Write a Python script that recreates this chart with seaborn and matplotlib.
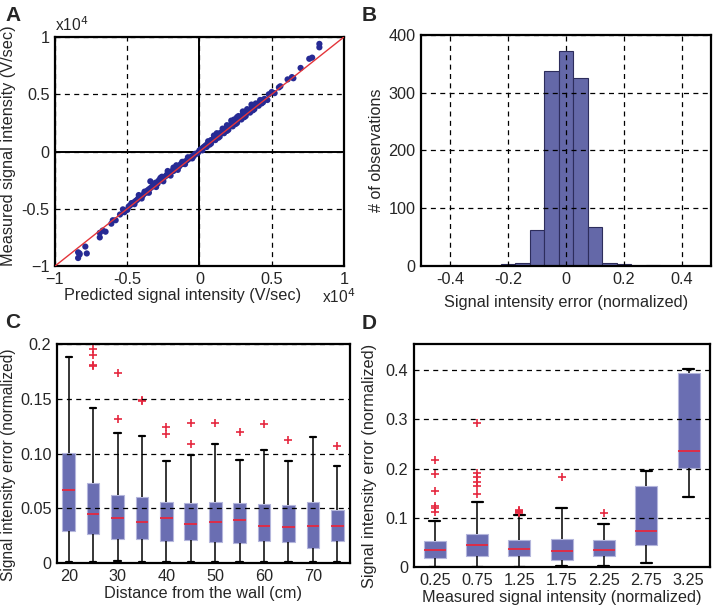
import numpy as np
import pandas as pd
import seaborn as sns
import matplotlib.pyplot as plt

# ---------------- data ----------------
# panel A: predicted vs measured signal intensity (x1e4 V/sec)
pred_a = [-0.84, -0.83, -0.83, -0.79, -0.78, -0.84,
          -0.69, -0.69, -0.65, -0.67, -0.60, -0.58, -0.61, -0.55, -0.53, -0.52,
          -0.50, -0.49, -0.48, -0.47, -0.46, -0.45, -0.44, -0.43, -0.42, -0.41,
          -0.40, -0.39, -0.38, -0.37, -0.36, -0.35, -0.34, -0.34, -0.33, -0.32,
          -0.31, -0.30, -0.29, -0.28, -0.27, -0.26, -0.25, -0.24, -0.23, -0.22,
          -0.21, -0.20, -0.19, -0.18, -0.17, -0.16, -0.15, -0.14, -0.13, -0.12,
          -0.11, -0.10, -0.09, -0.08, -0.07, -0.06, -0.05, -0.04, -0.03, -0.02,
          -0.01, -0.45, -0.40, -0.35, -0.30, -0.25, -0.20, -0.15, -0.10, -0.05,
          -0.22, -0.18, -0.27, -0.42, -0.38, -0.32, -0.26, -0.21, -0.16, -0.12,
          -0.08,
          0.00, 0.01, 0.02, 0.03, 0.04, 0.05, 0.06, 0.07, 0.08, 0.09, 0.10,
          0.11, 0.12, 0.13, 0.14, 0.15, 0.16, 0.17, 0.18, 0.19, 0.20, 0.21,
          0.22, 0.23, 0.24, 0.25, 0.26, 0.27, 0.28, 0.29, 0.30, 0.31, 0.32,
          0.33, 0.34, 0.35, 0.36, 0.37, 0.38, 0.39, 0.40, 0.41, 0.42, 0.43,
          0.44, 0.45, 0.02, 0.05, 0.08, 0.11, 0.14, 0.17, 0.20, 0.23, 0.26,
          0.29, 0.32, 0.35, 0.38, 0.41, 0.44, 0.10, 0.22, 0.30, 0.36, 0.26,
          0.06, 0.12, 0.16, 0.19, 0.24, 0.27, 0.33, 0.39, 0.42, 0.07, 0.13,
          0.19, 0.25, 0.31, 0.37, 0.43,
          0.47, 0.48, 0.50, 0.52, 0.55, 0.56, 0.61, 0.64, 0.65, 0.70, 0.76,
          0.78, 0.83, 0.83]
meas_a = [-0.93, -0.89, -0.90, -0.83, -0.89, -0.88,
          -0.71, -0.75, -0.70, -0.69, -0.60, -0.60, -0.63, -0.55, -0.505, -0.53,
          -0.51, -0.48, -0.47, -0.45, -0.45, -0.44, -0.43, -0.42, -0.40, -0.40,
          -0.39, -0.38, -0.36, -0.36, -0.34, -0.33, -0.26, -0.32, -0.31, -0.30,
          -0.30, -0.27, -0.28, -0.25, -0.25, -0.24, -0.23, -0.22, -0.21, -0.19,
          -0.20, -0.18, -0.17, -0.17, -0.15, -0.14, -0.13, -0.13, -0.11, -0.11,
          -0.09, -0.09, -0.08, -0.07, -0.06, -0.05, -0.04, -0.04, -0.02, -0.02,
          -0.01, -0.46, -0.41, -0.36, -0.31, -0.26, -0.21, -0.16, -0.11, -0.06,
          -0.17, -0.14, -0.23, -0.38, -0.35, -0.28, -0.22, -0.18, -0.12, -0.09,
          -0.05,
          0.01, 0.02, 0.03, 0.04, 0.05, 0.06, 0.07, 0.08, 0.10, 0.10, 0.12,
          0.12, 0.14, 0.14, 0.16, 0.16, 0.18, 0.18, 0.20, 0.20, 0.22, 0.22,
          0.24, 0.24, 0.26, 0.26, 0.28, 0.28, 0.30, 0.30, 0.32, 0.32, 0.34,
          0.34, 0.36, 0.36, 0.38, 0.38, 0.39, 0.40, 0.41, 0.42, 0.43, 0.44,
          0.45, 0.46, 0.01, 0.04, 0.07, 0.10, 0.13, 0.16, 0.19, 0.22, 0.25,
          0.28, 0.31, 0.34, 0.37, 0.40, 0.43, 0.14, 0.27, 0.35, 0.41, 0.30,
          0.09, 0.16, 0.20, 0.23, 0.28, 0.31, 0.37, 0.42, 0.45, 0.06, 0.12,
          0.18, 0.24, 0.30, 0.36, 0.42,
          0.45, 0.50, 0.52, 0.51, 0.56, 0.57, 0.63, 0.65, 0.64, 0.73, 0.81,
          0.82, 0.94, 0.91]

# panel B: histogram of normalized error
err_bins = [-0.40, -0.35, -0.30, -0.25, -0.20, -0.15, -0.10, -0.05, 0.00,
            0.05, 0.10, 0.15, 0.20, 0.25, 0.30]
err_counts = [2, 0, 0, 0, 3, 5, 62, 337, 373, 326, 68, 5, 3, 0, 1]

# panel C: error vs distance from wall (box stats)
dist_cm = [20, 25, 30, 35, 40, 45, 50, 55, 60, 65, 70, 75]
c_low = [0.001, 0.001, 0.002, 0.001, 0.001, 0.001, 0.001, 0.001, 0.001, 0.001, 0.001, 0.001]
c_q1 = [0.0296, 0.0266, 0.0223, 0.0223, 0.0200, 0.0214, 0.0190, 0.0180, 0.0200, 0.0190, 0.0137, 0.0200]
c_med = [0.0666, 0.0449, 0.0409, 0.0373, 0.0410, 0.0360, 0.0376, 0.0390, 0.0340, 0.0330, 0.0340, 0.0340]
c_q3 = [0.1008, 0.0730, 0.0623, 0.0600, 0.0560, 0.0550, 0.0560, 0.0550, 0.0540, 0.0530, 0.0560, 0.0480]
c_high = [0.188, 0.142, 0.119, 0.116, 0.093, 0.099, 0.109, 0.094, 0.103, 0.093, 0.115, 0.089]
c_out = [[], [0.196, 0.190, 0.181, 0.180], [0.174, 0.132], [0.149, 0.148],
         [0.124, 0.118], [0.128, 0.109], [0.128], [0.120], [0.127], [0.112],
         [], [0.107]]

# panel D: error vs measured intensity
meas_norm = [0.25, 0.75, 1.25, 1.75, 2.25, 2.75, 3.25]
d_low = [0.0, 0.0, 0.0, 0.0014, 0.0014, 0.0088, 0.143]
d_q1 = [0.019, 0.0217, 0.0217, 0.0143, 0.0217, 0.0455, 0.2017]
d_med = [0.034, 0.0455, 0.0373, 0.032, 0.0346, 0.074, 0.2357]
d_q3 = [0.053, 0.068, 0.0557, 0.057, 0.054, 0.164, 0.3946]
d_high = [0.0937, 0.132, 0.106, 0.120, 0.088, 0.196, 0.403]
d_out = [[0.217, 0.188, 0.154, 0.124, 0.120, 0.111],
         [0.293, 0.191, 0.182, 0.173, 0.164, 0.148],
         [0.110, 0.112, 0.114, 0.116],
         [0.182], [0.110], [], []]


def long_table(xs, low, q1, med, q3, high, outs, xname):
    rows = []
    for x, lo, a, m, b, hi, o in zip(xs, low, q1, med, q3, high, outs):
        k = len(o) + 1
        vals = [lo] * k + [a] * k + [m] * k + [b] * k + [hi] + list(o)
        vals = sorted(vals)
        rows += [(x, v) for v in vals]
    return pd.DataFrame(rows, columns=[xname, "err"])


df_b = pd.DataFrame({"err": err_bins, "n": err_counts})
df_c = long_table(dist_cm, c_low, c_q1, c_med, c_q3, c_high, c_out, "dist")
df_d = long_table(meas_norm, d_low, d_q1, d_med, d_q3, d_high, d_out, "meas")

# ---------------- style ----------------
sns.set_style("white")
plt.rcParams["font.family"] = ["Liberation Sans", "DejaVu Sans"]
fs = 11.7
plt.rcParams["font.size"] = fs

box_face = "#6a6eb2"
red = "#e5283f"
grid_kw = dict(color="black", linestyle=(0, (4, 3.5)), linewidth=0.9)

fig = plt.figure(figsize=(7.17, 6.13), dpi=100)
ax_a = fig.add_axes([0.0767, 0.566, 0.403, 0.3736])
ax_b = fig.add_axes([0.587, 0.566, 0.4045, 0.377])
ax_c = fig.add_axes([0.0795, 0.0816, 0.4086, 0.357])
ax_d = fig.add_axes([0.577, 0.075, 0.4128, 0.3638])

for ax in (ax_a, ax_b, ax_c, ax_d):
    for sp in ax.spines.values():
        sp.set_visible(True)
        sp.set_color("black")
        sp.set_linewidth(1.6)
    ax.tick_params(direction="in", length=0, labelsize=fs, pad=4)

# ---- A ----
ax_a.grid(True, **grid_kw)
ax_a.axhline(0, color="black", lw=1.4, zorder=2)
ax_a.axvline(0, color="black", lw=1.4, zorder=2)
sns.scatterplot(x=pred_a, y=meas_a, ax=ax_a, color="#262a94", s=20,
                edgecolor="none", zorder=3)
ax_a.axline((0, 0), slope=1, color="#e3353a", lw=1.0, zorder=4)
ax_a.set_xlim(-1, 1)
ax_a.set_ylim(-1, 1)
ticks_a = [-1, -0.5, 0, 0.5, 1]
lab_a = ["\u22121", "-0.5", "0", "0.5", "1"]
ax_a.set_xticks(ticks_a, lab_a)
ax_a.set_yticks(ticks_a, lab_a)
ax_a.set_xlabel("Predicted signal intensity (V/sec)", fontsize=fs)
ax_a.set_ylabel("Measured signal intensity (V/sec)", fontsize=fs)
ax_a.xaxis.set_label_coords(0.44, -0.095)
ax_a.yaxis.set_label_coords(-0.135, 0.525)
ax_a.text(0.925, -0.092, r"x10$^4$", transform=ax_a.transAxes, fontsize=fs - 0.5,
          ha="left", va="top")
ax_a.text(0.0, 1.012, r"x10$^4$", transform=ax_a.transAxes, fontsize=fs - 0.5,
          ha="left", va="bottom")

# ---- B ----
edges_b = [round(-0.425 + 0.05 * i, 3) for i in range(16)]
sns.histplot(data=df_b, x="err", weights="n", bins=edges_b, ax=ax_b,
             color="#6468a8", alpha=1, edgecolor="#2d2d5c", linewidth=0.8)
ax_b.set_axisbelow(False)
ax_b.grid(True, **grid_kw)
ax_b.set_xlim(-0.5, 0.5)
ax_b.set_ylim(0, 400)
ax_b.set_xticks([-0.4, -0.2, 0, 0.2, 0.4], ["-0.4", "-0.2", "0", "0.2", "0.4"])
ax_b.set_yticks([0, 100, 200, 300, 400])
ax_b.set_xlabel("Signal intensity error (normalized)", fontsize=fs, labelpad=6)
ax_b.set_ylabel("# of observations", fontsize=fs, labelpad=3)

# ---- C / D ----
box_kw = dict(
    native_scale=True, width=0.52, whis=1.5,
    boxprops=dict(facecolor=box_face, edgecolor="#b4b6dc", linewidth=0.8),
    medianprops=dict(color=red, linewidth=1.3),
    whiskerprops=dict(color="black", linewidth=1.1),
    capprops=dict(color="black", linewidth=1.6),
    flierprops=dict(marker="+", markeredgecolor=red, markerfacecolor=red,
                    markersize=6, markeredgewidth=1.2),
)
sns.boxplot(data=df_c, x="dist", y="err", ax=ax_c, **box_kw)
ax_c.set_axisbelow(False)
ax_c.yaxis.grid(True, **grid_kw)
ax_c.xaxis.grid(False)
ax_c.set_xlim(17.6, 77.6)
ax_c.set_ylim(0, 0.2)
ax_c.set_xticks([20, 30, 40, 50, 60, 70], ["20", "30", "40", "50", "60", "70"])
ax_c.set_yticks([0, 0.05, 0.10, 0.15, 0.2], ["0", "0.05", "0.10", "0.15", "0.2"])
ax_c.set_xlabel("Distance from the wall (cm)", fontsize=fs, labelpad=2)
ax_c.set_ylabel("Signal intensity error (normalized)", fontsize=11.2)
ax_c.yaxis.set_label_coords(-0.14, 0.45)

sns.boxplot(data=df_d, x="meas", y="err", ax=ax_d, **box_kw)
ax_d.set_axisbelow(False)
ax_d.yaxis.grid(True, **grid_kw)
ax_d.xaxis.grid(False)
ax_d.set_xlim(0, 3.5)
ax_d.set_ylim(0, 0.453)
ax_d.set_xticks(meas_norm, ["0.25", "0.75", "1.25", "1.75", "2.25", "2.75", "3.25"])
ax_d.set_yticks([0, 0.1, 0.2, 0.3, 0.4], ["0", "0.1", "0.2", "0.3", "0.4"])
ax_d.set_xlabel("Measured signal intensity (normalized)", fontsize=fs, labelpad=2)
ax_d.set_ylabel("Signal intensity error (normalized)", fontsize=fs)
ax_d.yaxis.set_label_coords(-0.125, 0.455)

# panel letters
for letter, x, y in [("A", 0.007, 0.99), ("B", 0.505, 0.99),
                     ("C", 0.007, 0.49), ("D", 0.505, 0.487)]:
    fig.text(x, y, letter, fontsize=15, fontweight="bold", ha="left", va="top")

fig.savefig("out.png", dpi=100)
